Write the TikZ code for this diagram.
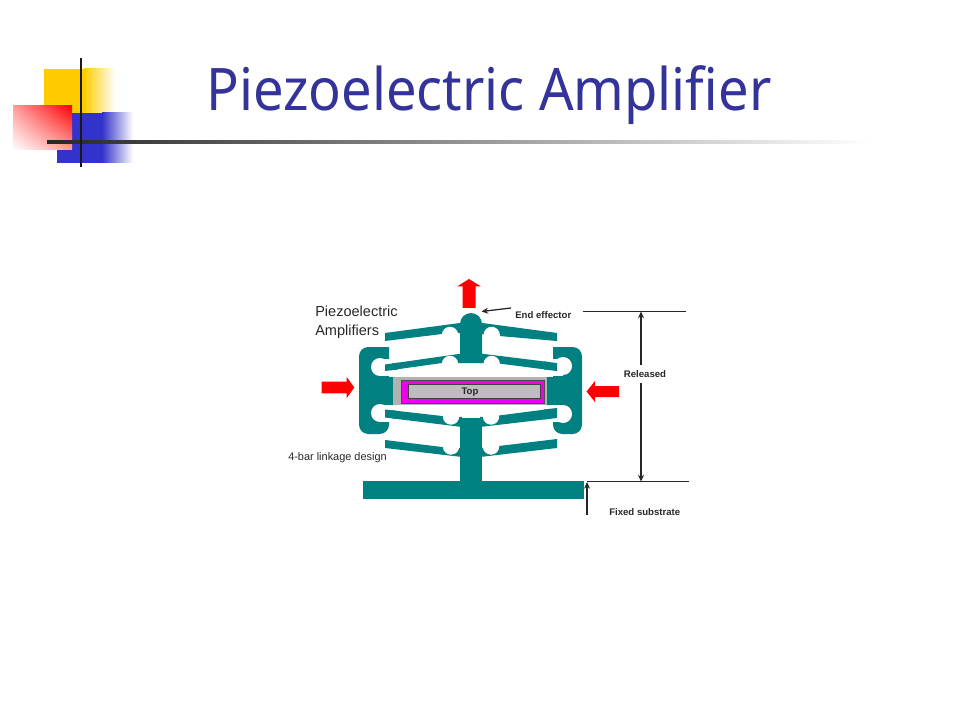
\documentclass[tikz,border=0pt]{standalone}
\usepackage{fontspec}
\setmainfont{Liberation Sans}
\newfontfamily\titlefont[FakeStretch=0.925]{Noto Sans}
\usetikzlibrary{arrows.meta,shadings}
\definecolor{tealc}{RGB}{0,128,128}
\definecolor{titleblue}{RGB}{51,51,153}
\definecolor{yel}{RGB}{255,204,0}
\definecolor{blu}{RGB}{51,51,204}
\definecolor{framegrey}{RGB}{178,178,178}
\definecolor{mag}{RGB}{240,0,240}
\definecolor{txt}{RGB}{40,40,40}
\tikzset{
  tealpart/.style={fill=tealc,draw=none},
  cutout/.style={fill=white,draw=none},
  redarrow/.style={fill=red,draw=none},
  dimline/.style={draw=black!85,line width=1pt},
  dimarrow/.style={draw=black!85,line width=0.95pt,-{Stealth[length=5pt,width=4.5pt]}},
  lab/.style={inner sep=0pt,text=txt,anchor=base west},
  boldlab/.style={lab,font=\fontsize{7.2pt}{8pt}\selectfont\bfseries},
  barline/.style={line width=2.2pt}
}
\begin{document}
\begin{tikzpicture}[x=0.75pt,y=-0.75pt]
\useasboundingbox (0,0) rectangle (960,720);
\fill[white] (0,0) rectangle (960,720);
% slide decoration
\fill[yel] (44,69) rectangle (84,113);
\shade[left color=yel,right color=white] (84,69) rectangle (115,113);
\fill[blu] (57,113) rectangle (102,163);
\shade[left color=blu,right color=white] (102,113) rectangle (133,163);
\shade[lower left=white,upper right=red,lower right=white!62!red,upper left=white!62!red] (13,106) rectangle (72,150);
\shade[left color=black!85,right color=white] (47,140.6) rectangle (870,143.4);
\draw[black!90,barline] (81,58) -- (81,167);
\node[anchor=base,inner sep=0pt,text=titleblue,font=\titlefont\fontsize{44pt}{50pt}\selectfont] (title) at (489,111) {Piezoelectric Amplifier};
% teal mechanism: arms
\path[tealpart] (385,333)--(462,322.7)--(462,333)--(442,334)--(385,341)--cycle;
\path[tealpart] (385,364.5)--(462,353.5)--(462,363)--(442,363)--(385,371)--cycle;
\path[tealpart] (557,333)--(480,322.7)--(480,334)--(499,336)--(557,341)--cycle;
\path[tealpart] (557,363)--(480,353.5)--(480,363)--(499,363.5)--(557,371)--cycle;
\path[tealpart] (385,409.5)--(442,416)--(462,417)--(462,427)--(385,417.5)--cycle;
\path[tealpart] (385,440)--(442,447)--(462,448)--(462,457)--(385,448)--cycle;
\path[tealpart] (557,408)--(499,415.5)--(480,417)--(480,427)--(557,418)--cycle;
\path[tealpart] (557,439)--(499,446)--(480,448)--(480,457)--(557,448)--cycle;
% cut-outs under the thin hinges of the arms
\foreach \cx/\cy in {450/335,450/364,491.7/335,491.7/364,451/416.5,451/446.5,491/416.5,491/446.5}
  \fill[cutout] (\cx,\cy) circle[radius=8.2];
% side blocks
\path[tealpart] [rounded corners=7pt] (389,347)--(359,347)--(359,434)--(389,434) [sharp corners] --(389,405)--(393,405)--(393,377)--(389,377)--cycle;
\path[tealpart] [rounded corners=7pt] (553,347)--(582,347)--(582,434)--(553,434) [sharp corners] --(553,405)--(547,405)--(547,377)--(553,377)--cycle;
\fill[cutout] (380,367) circle[radius=9];
\fill[cutout] (380,413) circle[radius=9];
\fill[cutout] (563,366) circle[radius=9];
\fill[cutout] (563,414) circle[radius=9];
\fill[cutout] (380,358.5) rectangle (392,376);
\fill[cutout] (380,404.5) rectangle (392,422);
\fill[cutout] (550,358.5) rectangle (563,376);
\fill[cutout] (550,404.5) rectangle (563,422);
\fill[cutout] (387,344.5) circle[radius=2.8];
\fill[cutout] (387,435.5) circle[radius=2.8];
\fill[cutout] (555,344.5) circle[radius=2.8];
\fill[cutout] (555,435.5) circle[radius=2.8];
% arm ends that sit inside the white pockets
\path[tealpart] (385,364.5)--(398,362.7)--(398,369.5)--(385,371)--cycle;
\path[tealpart] (385,409.5)--(398,411)--(398,419)--(385,417.5)--cycle;
\path[tealpart] (557,363)--(544,361.5)--(544,369.5)--(557,371)--cycle;
\path[tealpart] (557,408)--(544,409.5)--(544,419.5)--(557,418)--cycle;
% centre column and base
\path[tealpart] (460,363)--(460,324) arc[start angle=180,end angle=360,x radius=11,y radius=11]--(482,363)--cycle;
\path[tealpart] (460,418) rectangle (482,481);
\path[tealpart] (363,481) rectangle (584,498.5);
% piezo stack
\node[fill=framegrey,draw=none,minimum width=115.5pt,minimum height=21pt,inner sep=0pt] (frame) at (470,391) {};
\node[fill=mag,draw=black!70,line width=0.3pt,minimum width=107pt,minimum height=17pt,inner sep=0pt] (piezo) at (472.5,391.5) {};
\node[fill=black!26,draw=black!75,line width=0.5pt,minimum width=99pt,minimum height=10.5pt,inner sep=0pt] (top) at (474,391) {};
\node[inner sep=0pt,font=\fontsize{7.2pt}{8pt}\selectfont\bfseries,text=txt] (toptext) at (470,392.5) {Top};
% red arrows
\path[redarrow] (469,279)--(481,286.5)--(475.5,286.5)--(475.5,308)--(462.5,308)--(462.5,286.5)--(457,286.5)--cycle;
\path[redarrow] (354.3,387.5)--(346.7,398)--(346.7,393.3)--(321.7,393.3)--(321.7,381.7)--(346.7,381.7)--(346.7,377)--cycle;
\path[redarrow] (586.5,391.5)--(595,381)--(595,386)--(619,386)--(619,397)--(595,397)--(595,402)--cycle;
% labels
\node[lab,font=\fontsize{10.9pt}{13pt}\selectfont] (piezolab) at (315,316) {Piezoelectric};
\node[lab,font=\fontsize{10.9pt}{13pt}\selectfont] (amplab) at (315,335) {Amplifiers};
\node[lab,font=\fontsize{8.2pt}{10pt}\selectfont] (linklab) at (288,460) {4-bar linkage design};
\node[boldlab] (endlab) at (515,319) {End effector};
\node[boldlab,anchor=center] (rellab) at (645,374) {Released};
\node[boldlab] (fixlab) at (609,515) {Fixed substrate};
% dimension lines
\coordinate (reltopL) at (583,311.5);
\coordinate (reltopR) at (686,311.5);
\coordinate (relbotL) at (587,481.5);
\coordinate (relbotR) at (689,481.5);
\coordinate (reltop) at (641,311.5);
\coordinate (relbot) at (641,481.5);
\coordinate (relA) at (641,365);
\coordinate (relB) at (641,383);
\coordinate (fixstart) at (587,515);
\coordinate (fixend) at (587,482);
\coordinate (endstart) at (511,308);
\coordinate (endtip) at (481.5,311.5);
\draw[dimline] (reltopL) -- (reltopR);
\draw[dimline] (relbotL) -- (relbotR);
\draw[dimarrow] (relA) -- (reltop);
\draw[dimarrow] (relB) -- (relbot);
\draw[dimarrow] (fixstart) -- (fixend);
\draw[dimarrow] (endstart) -- (endtip);
\end{tikzpicture}
\end{document}
